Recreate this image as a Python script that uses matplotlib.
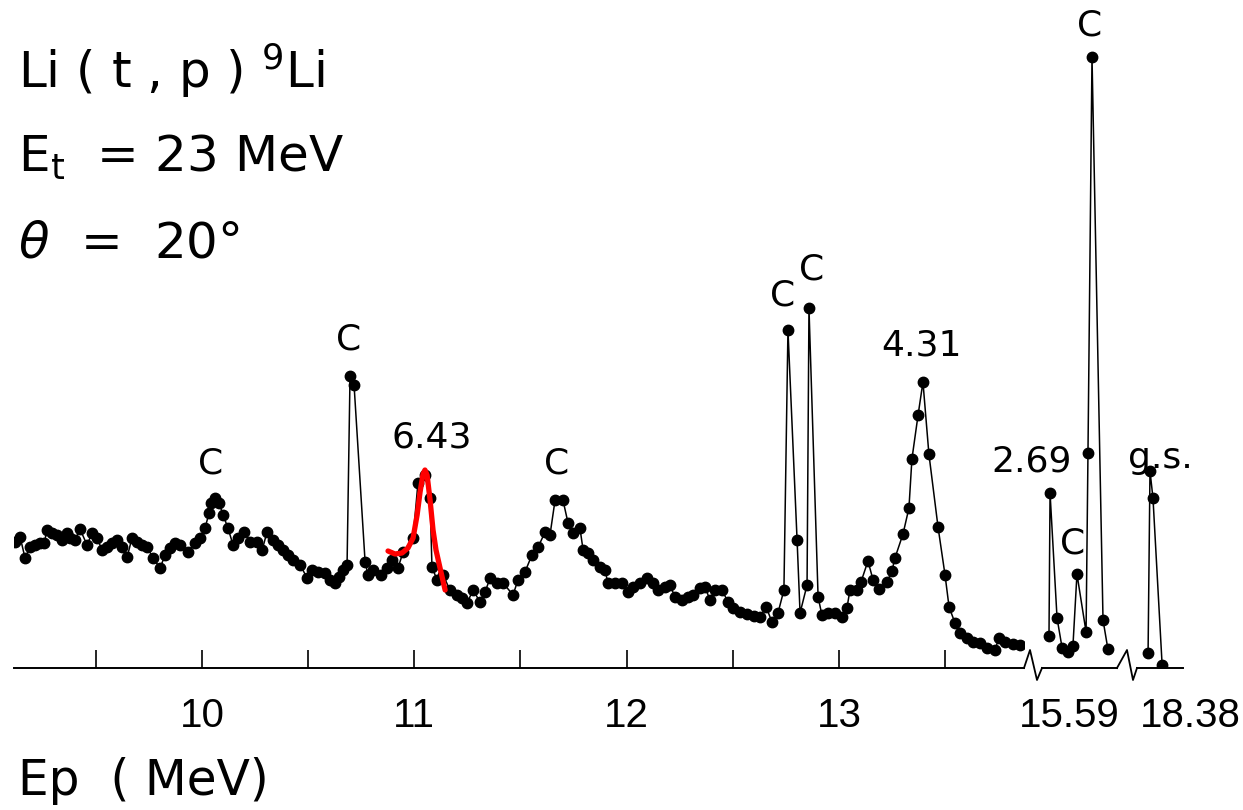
import matplotlib.pyplot as plt
import matplotlib.transforms as mtransforms
from matplotlib.lines import Line2D

# 7Li(t,p)9Li proton spectrum, Ep in MeV, counts in arbitrary units
ep_main = [9.119, 9.143, 9.166, 9.190, 9.213, 9.237, 9.256, 9.270, 9.293, 9.317,
           9.341, 9.364, 9.378, 9.402, 9.425, 9.458, 9.482, 9.505, 9.529, 9.553,
           9.576, 9.600, 9.623, 9.647, 9.670, 9.694, 9.717, 9.741, 9.769, 9.802,
           9.826, 9.849, 9.873, 9.896, 9.934, 9.967, 9.991, 10.014, 10.033, 10.042,
           10.061, 10.080, 10.099, 10.122, 10.146, 10.170, 10.198, 10.226, 10.259, 10.283,
           10.306, 10.334, 10.358, 10.382, 10.405, 10.429, 10.462, 10.495, 10.518, 10.546,
           10.579, 10.603, 10.626, 10.645, 10.664, 10.683, 10.697, 10.716, 10.768, 10.782,
           10.805, 10.843, 10.871, 10.895, 10.923, 10.947, 10.994, 11.017, 11.050, 11.074,
           11.083, 11.107, 11.135, 11.168, 11.201, 11.225, 11.248, 11.277, 11.309, 11.333,
           11.357, 11.390, 11.418, 11.465, 11.488, 11.521, 11.554, 11.583, 11.616, 11.639,
           11.663, 11.700, 11.724, 11.748, 11.780, 11.795, 11.818, 11.842, 11.875, 11.898,
           11.912, 11.945, 11.978, 12.007, 12.030, 12.063, 12.096, 12.124, 12.148, 12.181,
           12.204, 12.228, 12.261, 12.289, 12.313, 12.346, 12.369, 12.393, 12.416, 12.449,
           12.478, 12.501, 12.534, 12.567, 12.600, 12.628, 12.657, 12.685, 12.713, 12.741,
           12.760, 12.803, 12.817, 12.850, 12.859, 12.902, 12.920, 12.949, 12.982, 13.015,
           13.038, 13.052, 13.085, 13.104, 13.137, 13.161, 13.189, 13.227, 13.250, 13.264,
           13.302, 13.330, 13.344, 13.373, 13.396, 13.424, 13.467, 13.500, 13.519, 13.547,
           13.570, 13.603, 13.632, 13.665, 13.698, 13.735, 13.754, 13.782, 13.820, 13.853]
counts_main = [126, 131, 110, 121, 123, 125, 125, 138, 135, 133,
               128, 135, 130, 128, 139, 123, 135, 130, 118, 121,
               125, 128, 121, 111, 130, 126, 123, 121, 110, 100,
               113, 120, 125, 123, 116, 125, 130, 140, 155, 165,
               170, 165, 153, 140, 123, 130, 136, 126, 126, 118,
               136, 128, 123, 118, 113, 108, 103, 90, 98, 96,
               95, 88, 85, 91, 98, 103, 292, 283, 106, 93,
               98, 93, 100, 108, 100, 116, 130, 185, 193, 170,
               101, 88, 93, 78, 73, 70, 65, 78, 66, 76,
               90, 85, 85, 73, 88, 96, 113, 121, 136, 133,
               168, 168, 145, 135, 140, 118, 115, 108, 101, 98,
               85, 85, 85, 76, 81, 85, 90, 85, 78, 81,
               83, 71, 68, 71, 73, 80, 81, 68, 78, 78,
               66, 60, 56, 54, 52, 51, 61, 46, 55, 78,
               338, 128, 55, 83, 360, 71, 53, 55, 55, 51,
               60, 78, 78, 86, 107, 88, 79, 86, 97, 110,
               134, 160, 209, 253, 286, 214, 141, 93, 61, 45,
               35, 30, 26, 25, 20, 18, 30, 26, 24, 23]

ep_mid = [15.585, 15.590, 15.623, 15.647, 15.675, 15.698, 15.717, 15.760, 15.769, 15.788, 15.840, 15.863]
counts_mid = [32, 175, 50, 20, 16, 22, 94, 36, 215, 611, 48, 19]

ep_gs = [18.371, 18.380, 18.394, 18.437]
counts_gs = [15, 197, 170, 3]

# fitted 6.43 MeV peak (red overlay)
fit_ep = [10.876, 10.909, 10.942, 10.970, 10.994, 11.013, 11.027, 11.041, 11.050,
          11.060, 11.074, 11.088, 11.102, 11.121, 11.145]
fit_counts = [117, 114, 115, 120, 130, 153, 176, 194, 198, 193, 168, 138, 118, 100, 78]

major_ticks = [10, 11, 12, 13]
minor_ticks = [9.5, 10.5, 11.5, 12.5, 13.5]

W, H = 1243, 810
fig = plt.figure(figsize=(W / 100, H / 100), dpi=100)
plt.rcParams['mathtext.fontset'] = 'dejavusans'
tickfont = ['Liberation Sans', 'DejaVu Sans']


def box(x0, x1):
    return [x0 / W, 142 / H, (x1 - x0) / W, 668 / H]


ax1 = fig.add_axes(box(14, 1024))
ax2 = fig.add_axes(box(1042, 1117))
ax3 = fig.add_axes(box(1137, 1183))
ax1.set_xlim(9.114, 13.872)
ax2.set_xlim(15.552, 15.906)
ax3.set_xlim(18.319, 18.535)

dots = dict(color='black', lw=1.1, marker='o', ms=7.5)
ax1.plot(ep_main, counts_main, **dots)
ax2.plot(ep_mid, counts_mid, **dots)
ax3.plot(ep_gs, counts_gs, **dots)
ax1.plot(fit_ep, fit_counts, color='#ff0000', lw=3.8, solid_capstyle='round')

for ax in (ax1, ax2, ax3):
    ax.set_ylim(0, 668)
    ax.patch.set_visible(False)
    for s in ('left', 'right', 'top'):
        ax.spines[s].set_visible(False)
    ax.spines['bottom'].set_linewidth(1.4)
    ax.set_yticks([])

ax1.set_xticks(major_ticks)
ax1.set_xticks(minor_ticks, minor=True)
ax1.tick_params(which='both', direction='in', length=13, width=1.2, pad=21, labelsize=29)

ax2.set_xticks([15.59], ['15.59'])
ax3.set_xticks([18.38], ['18.38'])
for ax, dx in ((ax2, 19), (ax3, 40)):
    ax.tick_params(length=0, pad=21, labelsize=29)
    for lab in ax.get_xticklabels():
        lab.set_transform(lab.get_transform() + mtransforms.ScaledTranslation(dx / 100, 0, fig.dpi_scale_trans))

for ax in (ax1, ax2, ax3):
    for lab in ax.get_xticklabels():
        lab.set_family(tickfont)

# break marks on the energy axis
for xs in ((1024, 1030, 1037, 1042), (1117, 1127, 1133, 1137)):
    ys = (668, 650, 680, 668)
    fig.add_artist(Line2D([x / W for x in xs], [1 - y / H for y in ys], color='black', lw=1.3))

# peak labels
lab = dict(fontsize=26, ha='center', va='center')
ax1.text(10.038, 205, 'C', **lab)
ax1.text(10.692, 328, 'C', **lab)
ax1.text(11.083, 231, '6.43', **lab)
ax1.text(11.672, 205, 'C', **lab)
ax1.text(12.737, 372, 'C', **lab)
ax1.text(12.873, 398, 'C', **lab)
ax1.text(13.391, 323, '4.31', **lab)
ax2.text(15.505, 206, '2.69', **lab)
ax2.text(15.698, 125, 'C', **lab)
ax2.text(15.778, 643, 'C', **lab)
ax3.text(18.427, 210, 'g.s.', **lab)

fig.text(18 / W, 1 - 88 / H, r'Li ( t , p ) $^{9}$Li', fontsize=36, va='baseline')
fig.text(18 / W, 1 - 172 / H, r'E$_{\mathregular{t}}$  = 23 MeV', fontsize=36, va='baseline')
fig.text(18 / W, 1 - 258 / H, r'$\theta$  =  20°', fontsize=36, va='baseline')
fig.text(18 / W, 1 - 795 / H, 'Ep  ( MeV)', fontsize=35, va='baseline')

fig.savefig('out.png', dpi=100)
